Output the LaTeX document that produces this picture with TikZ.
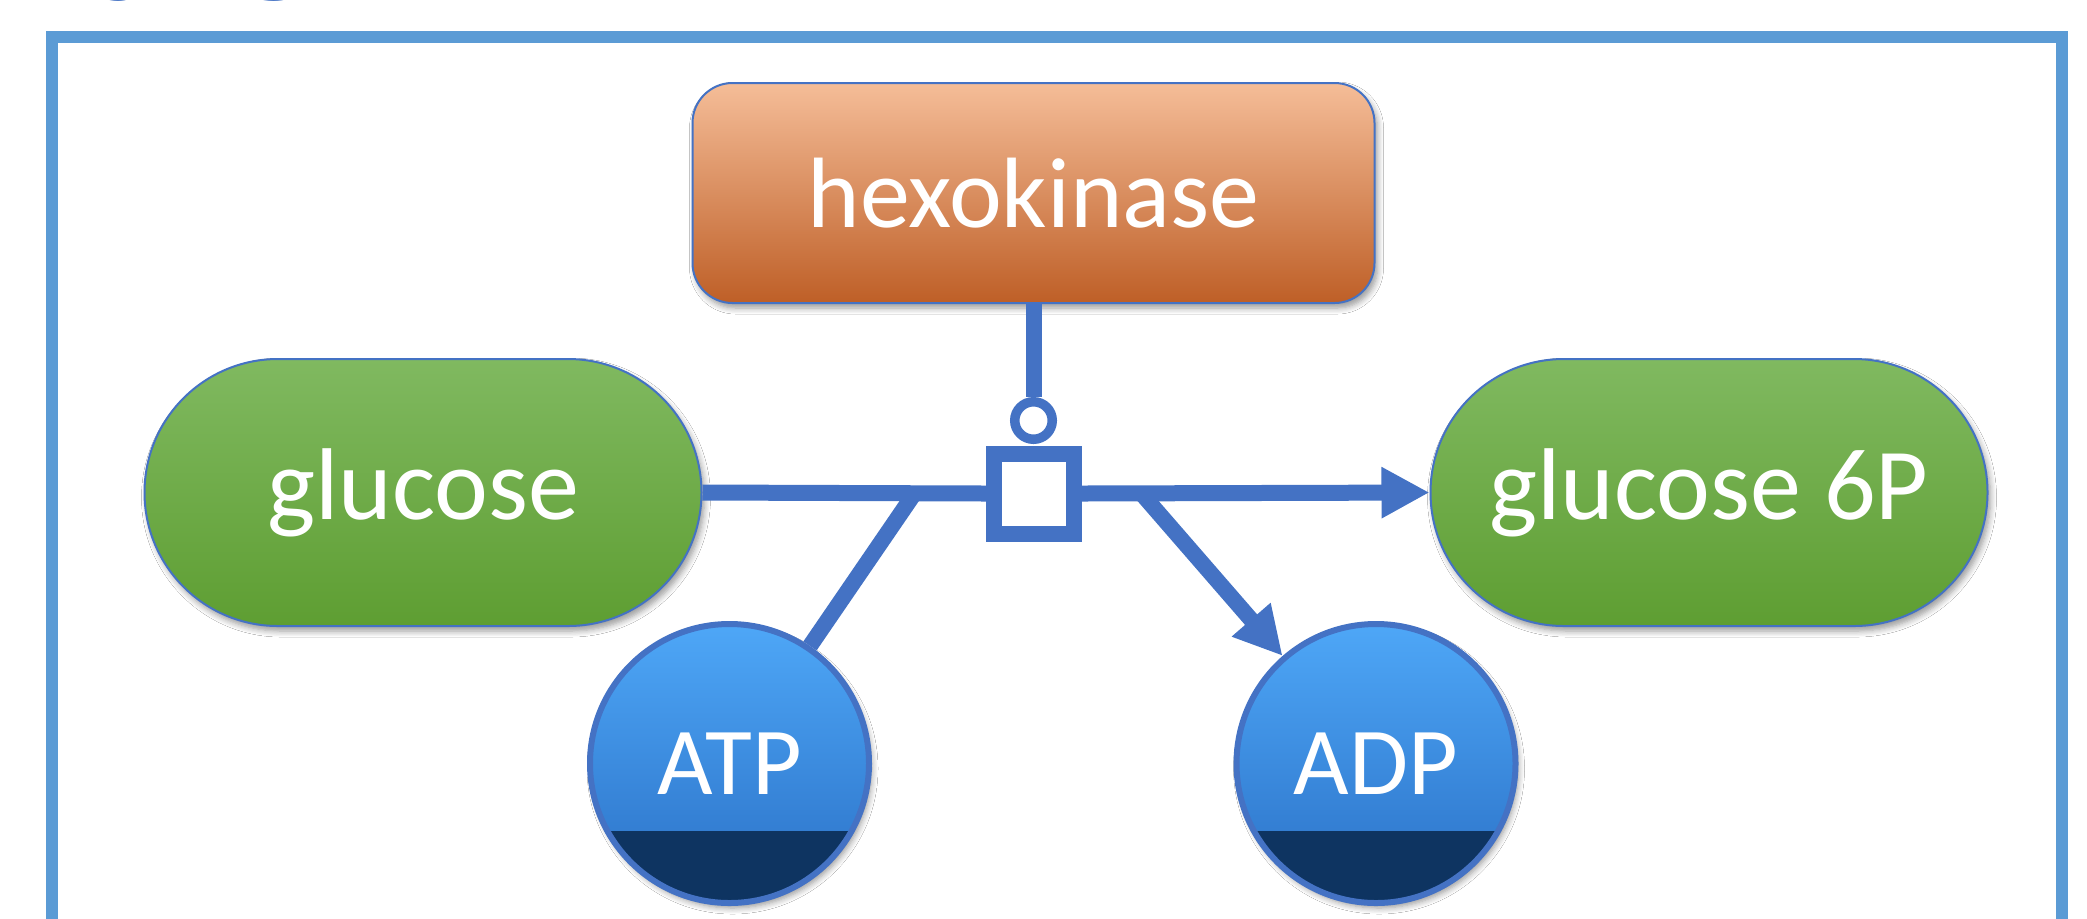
\documentclass[tikz,border=0pt]{standalone}
\usepackage{fontspec}
\setmainfont{Carlito}
\usetikzlibrary{arrows.meta,shapes.misc,shadows.blur}
\definecolor{frameblue}{HTML}{5B9BD5}
\definecolor{lineblue}{HTML}{4472C4}
\definecolor{titleblue}{HTML}{4472C4}
\definecolor{hexotop}{HTML}{F5BD98}
\definecolor{hexobot}{HTML}{BE5F27}
\definecolor{greentop}{HTML}{80B960}
\definecolor{greenbot}{HTML}{5E9E32}
\definecolor{bluetop}{HTML}{4EA7F7}
\definecolor{bluebot}{HTML}{2A70C6}
\definecolor{bandcol}{HTML}{0E3461}
\tikzset{
  conn/.style={draw=lineblue, line width=8pt},
  arrowtip/.style={-{Triangle[length=24pt,width=24pt]}},
  shad/.style={blur shadow={shadow xshift=1.5pt, shadow yshift=-2.5pt, shadow blur radius=3pt, shadow blur steps=6, shadow opacity=40}},
  wtext/.style={text=white, font=\fontsize{#1}{#1}\selectfont},
  enzyme/.style={rectangle, rounded corners=20pt, minimum width=341pt, minimum height=110pt,
    draw=lineblue, line width=1pt, top color=hexotop, bottom color=hexobot, shad, wtext=50pt, inner sep=0pt},
  macro/.style={rounded rectangle, minimum width=278.5pt, minimum height=133.5pt,
    draw=lineblue, line width=1pt, top color=greentop, bottom color=greenbot, shad, wtext=51pt, inner sep=0pt},
  chem/.style={circle, minimum size=139.5pt, inner sep=0pt, draw=lineblue, line width=3pt,
    top color=bluetop, bottom color=bluebot, shad, wtext=48pt,
    path picture={\fill[bandcol] ([xshift=-80pt,yshift=-33.75pt]path picture bounding box.center) rectangle ([xshift=80pt,yshift=-80pt]path picture bounding box.center);}},
  procbox/.style={rectangle, draw=lineblue, line width=8pt, fill=white, minimum size=40pt, inner sep=0pt},
  catcirc/.style={circle, draw=lineblue, line width=4.75pt, fill=white, minimum size=18.75pt, inner sep=0pt},
  frame/.style={draw=frameblue, line width=6pt}
}
\begin{document}
\begin{tikzpicture}[x=0.5pt,y=-0.5pt]
\useasboundingbox (0,0) rectangle (2087,918);
\fill[white] (0,0) rectangle (2087,918);
% title (mostly above the page)
\node[anchor=base west, inner sep=0pt, text=titleblue, font=\fontsize{68}{68}\selectfont] (title) at (88,0) {SBGN};
% frame
\draw[frame] (52,37) rectangle (2062,980);
% nodes
\node[enzyme] (hexo) at (1033.5,193) {hexokinase};
\node[macro] (glc) at (423,492.5) {glucose};
\node[macro] (g6p) at (1709,492.5) {glucose 6P};
\node[chem] (atp) at (729.5,763.5) {ATP};
\node[chem] (adp) at (1376,763.5) {ADP};
\node[procbox] (proc) at (1034,493.5) {};
\node[catcirc] (cat) at (1033.5,420.5) {};
\coordinate (j1) at (914,494);
\coordinate (j2) at (1142,494);
% connectors
\draw[conn] (j1) -- (atp);
\draw[conn, arrowtip] (j2) -- (adp);
\draw[conn] (glc.east) -- (proc.west);
\draw[conn, arrowtip] (proc.east) -- (g6p.west);
\draw[conn] (hexo.south) -- (cat.north);
\end{tikzpicture}
\end{document}
